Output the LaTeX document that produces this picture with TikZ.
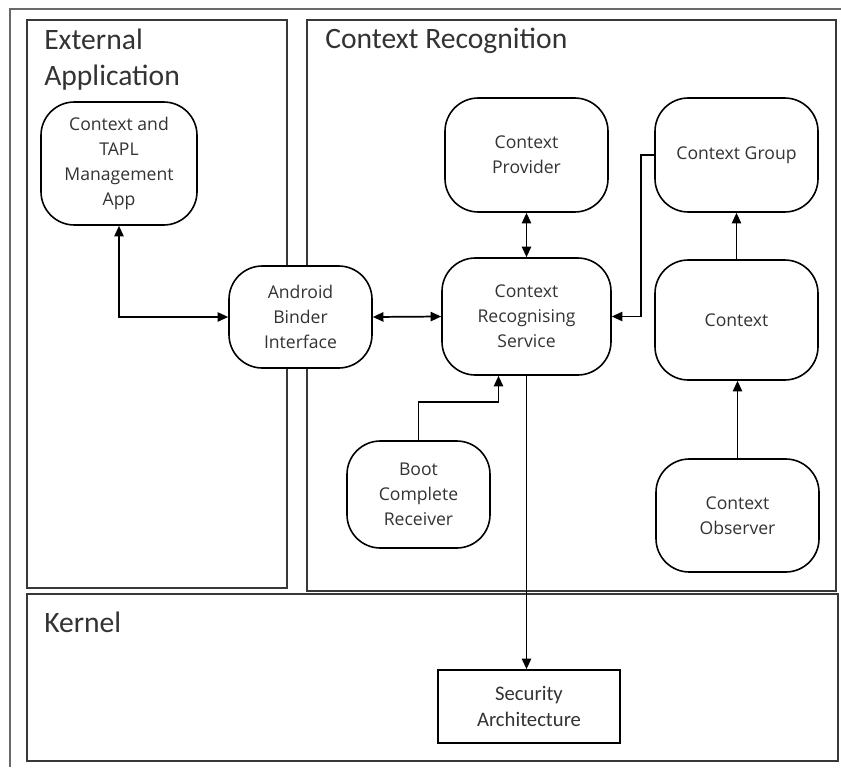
\documentclass[tikz,border=0pt]{standalone}
\usepackage{fontspec}
\setmainfont{Carlito}
\newfontfamily\nodefont{Open Sans}
\usetikzlibrary{arrows.meta}
\definecolor{inkgray}{HTML}{333333}
\definecolor{framegray}{HTML}{6A6A6A}
\definecolor{panelgray}{HTML}{383838}

\begin{document}
\begin{tikzpicture}[x=0.75pt, y=-0.75pt,
  panel/.style={draw=panelgray, line width=1.5pt},
  paneltitle/.style={anchor=base west, inner sep=0pt, align=left, text=inkgray,
    font=\fontsize{22.2pt}{27pt}\selectfont},
  rbox/.style={draw=black, fill=white, rounded corners=25pt, line width=1.2pt,
    inner sep=0pt, align=center, text=inkgray,
    font=\nodefont\fontsize{13.2pt}{18.9pt}\selectfont},
  sbox/.style={draw=black, fill=white, line width=1.2pt, inner sep=0pt,
    align=center, text=inkgray, font=\fontsize{15.5pt}{18.9pt}\selectfont},
  link/.style={line width=1.3pt, draw=black},
  tip/.style={-{Triangle[length=8pt,width=7pt]}},
  bitip/.style={{Triangle[length=8pt,width=7pt]}-{Triangle[length=8pt,width=7pt]}}
]
\useasboundingbox (0,0) rectangle (841,767);

% outer frame
\draw[framegray, line width=0.9pt] (841,9) -- (10,9) -- (10,767);

% layer panels
\draw[panel] (27,20) rectangle (287,588);
\draw[panel] (307,20) rectangle (836,591);
\draw[panel] (27,594) rectangle (838,761);

\node[paneltitle] (exttitle) at (44,85) {External\\Application};
\node[paneltitle] (ctxtitle) at (325,49) {Context Recognition};
\node[paneltitle] (kertitle) at (44,632) {Kernel};

% components
\node[rbox, minimum width=117pt, minimum height=92.25pt] (app) at (119,163.5)
  {Context and\\TAPL\\Management\\App};
\node[rbox, minimum width=107.25pt, minimum height=76.5pt] (binder) at (300.5,317)
  {Android\\Binder\\Interface};
\node[rbox, minimum width=122.25pt, minimum height=85.5pt] (provider) at (526.5,155)
  {Context\\Provider};
\node[rbox, minimum width=122.25pt, minimum height=85.5pt] (group) at (736.5,155)
  {Context Group};
\node[rbox, minimum width=126.75pt, minimum height=87.75pt] (crs) at (526.5,316.5)
  {Context\\Recognising\\Service};
\node[rbox, minimum width=122.25pt, minimum height=90pt] (context) at (736.5,320)
  {Context};
\node[rbox, minimum width=107.25pt, minimum height=80.25pt] (boot) at (418.5,494.5)
  {Boot\\Complete\\Receiver};
\node[rbox, minimum width=122.25pt, minimum height=84.75pt] (observer) at (737.5,515.5)
  {Context\\Observer};
\node[sbox, minimum width=136.5pt, minimum height=54.75pt] (security) at (529,706.5)
  {Security\\Architecture};

% connectors
\coordinate (bootbend) at (0,402);
\draw[link, bitip] (app.south) |- (binder.west);
\draw[link, bitip] (binder.east) -- (crs.west);
\draw[link, bitip] (provider.south) -- (crs.north);
\draw[link, tip] (group.west) -- ++(-13,0) |- (crs.east);
\draw[link, tip] (context.north) -- (group.south);
\draw[link, tip] (observer.north) -- (observer.north |- context.south);
\draw[link, tip] (boot.north) -- (boot.north |- bootbend) -| ([xshift=-21pt]crs.south);
\draw[link, tip] (crs.south) -- (crs.south |- security.north);
\end{tikzpicture}
\end{document}
